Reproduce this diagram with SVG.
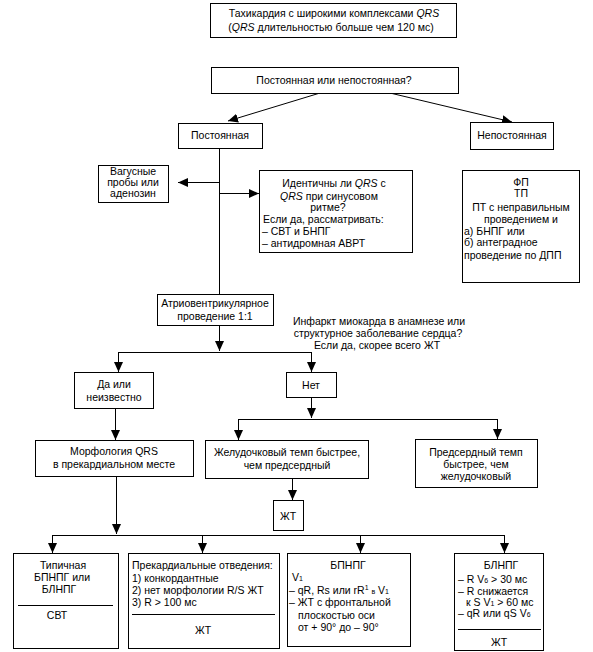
<svg xmlns="http://www.w3.org/2000/svg" width="593" height="652" viewBox="0 0 593 652">
<style>
.b{fill:#fff;stroke:#000;stroke-width:1}
.t{font-family:"Liberation Sans",Arial,sans-serif;font-size:10.5px;fill:#000}
.c{text-anchor:middle}
.i{font-style:italic}
.s{font-size:7px}
.l{stroke:#000;stroke-width:1;fill:none}
.a{stroke:#000;stroke-width:1;fill:none;marker-end:url(#ah)}
</style>
<defs>
<marker id="ah" markerUnits="userSpaceOnUse" markerWidth="11" markerHeight="10" refX="10" refY="4.5" orient="auto">
<path d="M0,0 L10,4.5 L0,9 z" fill="#000"/>
</marker>
</defs>
<rect width="593" height="652" fill="#fff"/>
<g id="connectors">
<path class="a" d="M320,93 L228,121"/>
<path class="a" d="M390,93 L512,122"/>
<path class="l" d="M219.5,148 V294"/>
<path class="a" d="M219,182.5 H178"/>
<path class="a" d="M219,193.5 H259"/>
<path class="a" d="M219.5,325 V351"/>
<path class="l" d="M118.5,352.5 H311.5"/>
<path class="a" d="M118.5,352 V372"/>
<path class="a" d="M311.5,352 V372"/>
<path class="a" d="M115.5,408 V440"/>
<path class="a" d="M311.5,397 V418"/>
<path class="l" d="M238.5,419.5 H497.5"/>
<path class="a" d="M238.5,419 V440"/>
<path class="a" d="M497.5,419 V439"/>
<path class="a" d="M292.5,478 V500"/>
<path class="a" d="M116.5,476 V534"/>
<path class="l" d="M52.5,535.5 H504.5"/>
<path class="a" d="M52.5,535 V553"/>
<path class="a" d="M202.5,535 V553"/>
<path class="a" d="M360.5,535 V553"/>
<path class="a" d="M504.5,535 V553"/>
</g>
<g id="n-tachy">
<rect class="b" x="210.5" y="3.5" width="246" height="34"/>
<text class="t c" x="334" y="17">Тахикардия с широкими комплексами <tspan class="i">QRS</tspan></text>
<text class="t c" x="331" y="31">(<tspan class="i">QRS</tspan> длительностью больше чем 120 мс)</text>
</g>
<g id="n-question">
<rect class="b" x="211.5" y="67.5" width="247" height="26"/>
<text class="t c" x="334" y="84">Постоянная или непостоянная?</text>
</g>
<g id="n-const">
<rect class="b" x="178.5" y="123.5" width="84" height="25"/>
<text class="t c" x="220" y="139">Постоянная</text>
</g>
<g id="n-nonconst">
<rect class="b" x="470.5" y="122.5" width="83" height="27"/>
<text class="t c" x="512" y="139">Непостоянная</text>
</g>
<g id="n-vagal">
<rect class="b" x="98.5" y="165.5" width="70" height="37"/>
<text class="t c" x="133" y="175">Вагусные</text>
<text class="t c" x="133" y="186">пробы или</text>
<text class="t c" x="133" y="197">аденозин</text>
</g>
<g id="n-identical">
<rect class="b" x="259.5" y="170.5" width="153" height="82"/>
<text class="t c" x="334" y="187">Идентичны ли <tspan class="i">QRS</tspan> с</text>
<text class="t c" x="329" y="200"><tspan class="i">QRS</tspan> при  синусовом</text>
<text class="t c" x="328" y="211">ритме?</text>
<text class="t" x="263" y="223">Если да, рассматривать:</text>
<text class="t" x="262" y="235">– СВТ и БНПГ</text>
<text class="t" x="262" y="247">– антидромная АВРТ</text>
</g>
<g id="n-af">
<rect class="b" x="462.5" y="170.5" width="117" height="112"/>
<text class="t c" x="521" y="186">ФП</text>
<text class="t c" x="521" y="197">ТП</text>
<text class="t c" x="521" y="211">ПТ с неправильным</text>
<text class="t c" x="521" y="223">проведением и</text>
<text class="t" x="464" y="235">а)  БНПГ или</text>
<text class="t" x="464" y="246">б)   антеградное</text>
<text class="t" x="464" y="259">проведение по ДПП</text>
</g>
<g id="n-av">
<rect class="b" x="157.5" y="294.5" width="116" height="31"/>
<text class="t c" x="215" y="307">Атриовентрикулярное</text>
<text class="t c" x="215" y="320">проведение 1:1</text>
</g>
<g id="n-infarct">
<text class="t c" x="379" y="325">Инфаркт миокарда в анамнезе или</text>
<text class="t c" x="378" y="337">структурное заболевание сердца?</text>
<text class="t c" x="377" y="349">Если да, скорее всего ЖТ</text>
</g>
<g id="n-yes">
<rect class="b" x="74.5" y="372.5" width="79" height="36"/>
<text class="t c" x="114" y="388">Да или</text>
<text class="t c" x="114" y="401">неизвестно</text>
</g>
<g id="n-no">
<rect class="b" x="286.5" y="372.5" width="50" height="25"/>
<text class="t c" x="311" y="389">Нет</text>
</g>
<g id="n-morph">
<rect class="b" x="35.5" y="440.5" width="158" height="36"/>
<text class="t c" x="114" y="455">Морфология QRS</text>
<text class="t c" x="114" y="468">в прекардиальном месте</text>
</g>
<g id="n-vfaster">
<rect class="b" x="205.5" y="440.5" width="163" height="38"/>
<text class="t c" x="287" y="456">Желудочковый темп быстрее,</text>
<text class="t c" x="287" y="469">чем предсердный</text>
</g>
<g id="n-afaster">
<rect class="b" x="415.5" y="439.5" width="122" height="48"/>
<text class="t c" x="476" y="456">Предсердный темп</text>
<text class="t c" x="476" y="468">быстрее, чем</text>
<text class="t c" x="476" y="480">желудочковый</text>
</g>
<g id="n-vt1">
<rect class="b" x="273.5" y="500.5" width="30" height="30"/>
<text class="t c" x="288" y="520">ЖТ</text>
</g>
<g id="n-typical">
<rect class="b" x="13.5" y="553.5" width="105" height="95"/>
<text class="t c" x="63" y="569">Типичная</text>
<text class="t c" x="62" y="581">БПНПГ  или</text>
<text class="t c" x="59" y="593">БЛНПГ</text>
<path class="l" d="M18,605.5 H113"/>
<text class="t c" x="57" y="619">СВТ</text>
</g>
<g id="n-precordial">
<rect class="b" x="128.5" y="553.5" width="151" height="95"/>
<text class="t" x="132" y="569">Прекардиальные отведения:</text>
<text class="t" x="132" y="582">1) конкордантные</text>
<text class="t" x="132" y="594">2)  нет морфологии R/S ЖТ</text>
<text class="t" x="132" y="606">3) R &gt; 100 мс</text>
<path class="l" d="M132,614.5 H275"/>
<text class="t c" x="203" y="634">ЖТ</text>
</g>
<g id="n-rbbb">
<rect class="b" x="287.5" y="553.5" width="123" height="93"/>
<text class="t c" x="348" y="569">БПНПГ</text>
<text class="t" x="292" y="581">V<tspan class="s">1</tspan></text>
<text class="t" x="289" y="594">– qR, Rs или rR<tspan class="s" dy="-4">1</tspan><tspan dy="4">  </tspan><tspan class="s">в</tspan> V<tspan class="s">1</tspan></text>
<text class="t" x="289" y="606">– ЖТ с фронтальной</text>
<text class="t" x="298" y="619">плоскостью оси</text>
<text class="t" x="298" y="631">от + 90° до – 90°</text>
</g>
<g id="n-lbbb">
<rect class="b" x="454.5" y="553.5" width="89" height="97"/>
<text class="t c" x="501" y="569">БЛНПГ</text>
<text class="t" x="458" y="583">– R V<tspan class="s">6</tspan> &gt; 30 мс</text>
<text class="t" x="458" y="595">– R снижается</text>
<text class="t" x="466" y="606">к S V<tspan class="s">1</tspan> &gt; 60 мс</text>
<text class="t" x="458" y="617">– qR или qS V<tspan class="s">6</tspan></text>
<path class="l" d="M458,629.5 H541"/>
<text class="t c" x="499" y="646">ЖТ</text>
</g>
</svg>
